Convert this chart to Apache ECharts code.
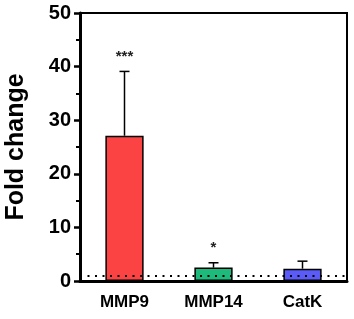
<!DOCTYPE html>
<html>
<head>
<meta charset="utf-8">
<script src="https://cdn.jsdelivr.net/npm/echarts@6/dist/echarts.min.js"></script>
<style>
  html, body { margin: 0; padding: 0; background: #fff; }
  #chart { width: 354px; height: 319px; }
</style>
</head>
<body>
<div id="chart"></div>
<script>
// data
var categories = ['MMP9', 'MMP14', 'CatK'];
var foldValues = [27.1, 2.5, 2.3];
var errorTops = [39.1, 3.4, 3.7];
var starLabels = ['***', '*', ''];
var barColors = ['#fb4343', '#1dba7c', '#5b5bf7'];
var yTicks = [0, 10, 20, 30, 40, 50];
var baseline = 1;

var myChart = echarts.init(document.getElementById('chart'));

var option = {
  animation: false,
  grid: {
    left: 80, right: 7, top: 13, bottom: 38,
    outerBoundsMode: 'none',
    show: true, borderColor: '#000', borderWidth: 2
  },
  xAxis: {
    type: 'category',
    data: categories,
    axisLine: { lineStyle: { color: '#000', width: 3 } },
    axisTick: { alignWithLabel: true, length: 6, lineStyle: { color: '#000', width: 2.5 } },
    axisLabel: {
      color: '#000', fontWeight: 'bold', fontSize: 17,
      fontFamily: 'Liberation Sans, Arial', margin: 13
    }
  },
  yAxis: {
    type: 'value',
    min: yTicks[0], max: yTicks[yTicks.length - 1], interval: 10,
    name: 'Fold change',
    nameLocation: 'middle',
    nameGap: 51,
    nameTextStyle: {
      color: '#000', fontWeight: 'bold', fontSize: 25,
      fontFamily: 'Liberation Sans, Arial'
    },
    axisLine: { show: true, lineStyle: { color: '#000', width: 3 } },
    axisTick: { show: true, length: 6, lineStyle: { color: '#000', width: 2.5 } },
    minorTick: { show: true, splitNumber: 2, length: 4, lineStyle: { color: '#000', width: 2 } },
    splitLine: { show: false },
    axisLabel: {
      color: '#000', fontWeight: 'bold', fontSize: 20,
      fontFamily: 'Liberation Sans, Arial', margin: 9
    }
  },
  series: [
    {
      // dotted reference line at fold change = 1, behind the bars
      type: 'line',
      data: [],
      z: 1,
      markLine: {
        silent: true,
        symbol: 'none',
        label: { show: false },
        lineStyle: { color: '#000', type: [2, 5.5], width: 2 },
        data: [{ yAxis: baseline }]
      }
    },
    {
      type: 'bar',
      z: 3,
      barWidth: '43%',
      data: foldValues.map(function (v, i) {
        return { value: v, itemStyle: { color: barColors[i] } };
      }),
      itemStyle: { borderColor: '#000', borderWidth: 1.5 }
    },
    {
      // upper error bars with significance stars
      type: 'custom',
      z: 4,
      data: errorTops.map(function (t, i) { return [i, foldValues[i], t]; }),
      renderItem: function (params, api) {
        var i = api.value(0);
        var base = api.coord([i, api.value(1)]);
        var top = api.coord([i, api.value(2)]);
        var half = 5;
        var children = [
          { type: 'line', shape: { x1: base[0], y1: base[1], x2: top[0], y2: top[1] },
            style: { stroke: '#000', lineWidth: 1.5 } },
          { type: 'line', shape: { x1: top[0] - half, y1: top[1], x2: top[0] + half, y2: top[1] },
            style: { stroke: '#000', lineWidth: 1.5 } }
        ];
        var star = starLabels[params.dataIndex];
        if (star) {
          children.push({
            type: 'text',
            style: {
              text: star, x: top[0], y: top[1] - 7,
              align: 'center', verticalAlign: 'bottom',
              fill: '#222', font: 'bold 15px Liberation Sans, Arial'
            }
          });
        }
        return { type: 'group', children: children };
      }
    }
  ]
};

myChart.setOption(option);
</script>
</body>
</html>
